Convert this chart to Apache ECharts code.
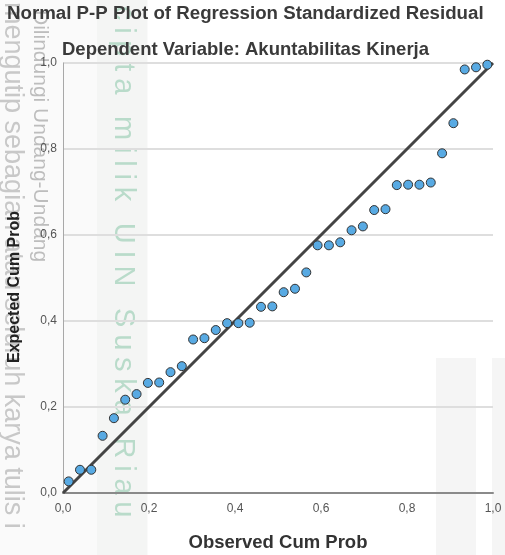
<!DOCTYPE html>
<html>
<head>
<meta charset="utf-8">
<script src="https://cdn.jsdelivr.net/npm/echarts@6/dist/echarts.min.js"></script>
<style>html,body{margin:0;padding:0;background:#fff}#c{width:505px;height:555px}</style>
</head>
<body>
<div id="c"></div>
<script>
const observedCumProb = [0.0132,0.0395,0.0658,0.0921,0.1184,0.1447,0.1711,0.1974,0.2237,0.2500,0.2763,0.3026,0.3289,0.3553,0.3816,0.4079,0.4342,0.4605,0.4868,0.5132,0.5395,0.5658,0.5921,0.6184,0.6447,0.6711,0.6974,0.7237,0.7500,0.7763,0.8026,0.8289,0.8553,0.8816,0.9079,0.9342,0.9605,0.9868];
const expectedCumProb = [0.027,0.054,0.054,0.133,0.174,0.217,0.230,0.256,0.257,0.281,0.295,0.357,0.360,0.379,0.395,0.395,0.396,0.433,0.434,0.467,0.475,0.513,0.576,0.576,0.583,0.611,0.620,0.658,0.660,0.716,0.717,0.717,0.722,0.790,0.860,0.985,0.990,0.996];
const refLineX = [0, 1];
const refLineY = [0, 1];
const tickValues = [0, 0.2, 0.4, 0.6, 0.8, 1.0];
const tickLabels = ['0,0','0,2','0,4','0,6','0,8','1,0'];

const fmt = v => { const i = tickValues.findIndex(t => Math.abs(t - v) < 1e-6); return i >= 0 ? tickLabels[i] : ''; };
const FF = '"Liberation Sans", Arial, sans-serif';

// spaced vertical watermark (decorative background text)
function spacedVertical(text, x, yStart, font, spacing, fill) {
  const ctx = document.createElement('canvas').getContext('2d');
  ctx.font = font;
  const out = [];
  let y = yStart;
  for (const ch of text) {
    out.push({type: 'text', z: -5, x: x, y: y, rotation: -Math.PI / 2,
      style: {text: ch, font: font, fill: fill, verticalAlign: 'middle', align: 'left'}});
    y += ctx.measureText(ch).width + spacing;
  }
  return out;
}

const chart = echarts.init(document.getElementById('c'), null, {renderer: 'canvas'});
chart.setOption({
  backgroundColor: '#fff',
  animation: false,
  graphic: [
    {type: 'rect', z: -10, shape: {x: 0, y: 0, width: 148, height: 555}, style: {fill: '#fafafa'}},
    {type: 'rect', z: -10, shape: {x: 97, y: 0, width: 50, height: 555}, style: {fill: '#f4f5f4'}},
    {type: 'rect', z: -10, shape: {x: 436, y: 358, width: 40, height: 197}, style: {fill: '#f5f5f5'}},
    {type: 'rect', z: -10, shape: {x: 492, y: 358, width: 13, height: 197}, style: {fill: '#f5f5f5'}},
    ...spacedVertical('Hak cipta milik UIN Suska Riau', 123, -81, '29px ' + FF, 6.8, '#b9dbca'),
    {type: 'text', z: -5, x: 40, y: 10, rotation: -Math.PI / 2,
     style: {text: 'Dilindungi Undang-Undang', font: '21px ' + FF, fill: '#bdbdbd', verticalAlign: 'middle', align: 'left'}},
    {type: 'text', z: -5, x: 12, y: 2, rotation: -Math.PI / 2,
     style: {text: 'mengutip sebagian atau seluruh karya tulis i', font: '27px ' + FF, fill: '#c8c8c8', verticalAlign: 'middle', align: 'left'}}
  ],
  title: [
    {text: 'Normal P-P Plot of Regression Standardized Residual', left: 7, top: 4, padding: 0,
     textStyle: {fontSize: 18.7, fontWeight: 'bold', color: '#3a3a3a', fontFamily: FF}},
    {text: 'Dependent Variable: Akuntabilitas Kinerja', left: 62, top: 40, padding: 0,
     textStyle: {fontSize: 18.5, fontWeight: 'bold', color: '#3a3a3a', fontFamily: FF}}
  ],
  grid: {left: 63, right: 12, top: 63, bottom: 62, outerBoundsMode: 'none'},
  xAxis: {
    type: 'value', min: 0, max: 1, interval: 0.2,
    name: 'Observed Cum Prob', nameLocation: 'middle', nameGap: 40,
    nameTextStyle: {fontSize: 18.5, fontWeight: 'bold', color: '#333', fontFamily: FF},
    axisLine: {show: true, lineStyle: {color: '#8a8a8a', width: 2}},
    axisTick: {show: false},
    splitLine: {show: false},
    axisLabel: {formatter: fmt, fontSize: 12, color: '#555', margin: 10, fontFamily: FF}
  },
  yAxis: {
    type: 'value', min: 0, max: 1, interval: 0.2,
    name: 'Expected Cum Prob', nameLocation: 'middle', nameGap: 40,
    nameTextStyle: {fontSize: 16, fontWeight: 'bold', color: '#222', fontFamily: FF, padding: [0, 0, 0, -18]},
    axisLine: {show: true, lineStyle: {color: '#a8a8a8', width: 1}},
    axisTick: {show: false},
    splitLine: {show: true, lineStyle: {color: '#dedede', width: 2}},
    axisLabel: {formatter: fmt, fontSize: 12, color: '#555', margin: 6, fontFamily: FF}
  },
  series: [
    {type: 'line', data: refLineX.map((x, i) => [x, refLineY[i]]), symbol: 'none', z: 3,
     lineStyle: {color: '#444', width: 3}},
    {type: 'scatter', data: observedCumProb.map((x, i) => [x, expectedCumProb[i]]), symbolSize: 9, z: 4,
     itemStyle: {color: '#58aae3', borderColor: '#333', borderWidth: 1, opacity: 1}}
  ]
});
</script>
</body>
</html>
